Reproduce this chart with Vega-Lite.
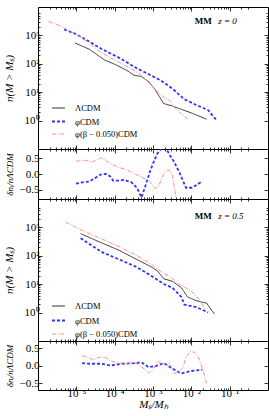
{
  "$schema": "https://vega.github.io/schema/vega-lite/v6.json",
  "padding": {"left": 2, "top": 6, "right": 0, "bottom": 0},
  "spacing": 0,
  "bounds": "flush",
  "config": {
    "font": "Liberation Serif",
    "view": {"stroke": "#000000", "strokeWidth": 1},
    "axis": {"grid": false, "domain": false, "tickColor": "#000000", "tickWidth": 0.8, "labelColor": "#000000", "titleColor": "#000000", "labelFont": "Liberation Serif", "titleFont": "Liberation Serif", "labelFontSize": 11, "titleFontSize": 11, "titleFontWeight": "normal", "titleFontStyle": "italic", "labelFlush": false, "labelOverlap": false, "titleLimit": 1000}
  },
  "datasets": {
    "main0": [
      {"m": "ΛCDM", "x": 9.33e-6, "y": 537}, {"m": "ΛCDM", "x": 2.19e-5, "y": 324}, {"m": "ΛCDM", "x": 5.37e-5, "y": 138}, {"m": "ΛCDM", "x": 1.10e-4, "y": 91.2}, {"m": "ΛCDM", "x": 2.24e-4, "y": 55.0}, {"m": "ΛCDM", "x": 3.16e-4, "y": 39.8}, {"m": "ΛCDM", "x": 5.01e-4, "y": 35.5}, {"m": "ΛCDM", "x": 7.76e-4, "y": 23.4}, {"m": "ΛCDM", "x": 1.12e-3, "y": 12.6}, {"m": "ΛCDM", "x": 1.905e-3, "y": 3.98}, {"m": "ΛCDM", "x": 3.24e-3, "y": 3.24}, {"m": "ΛCDM", "x": 1.0e-2, "y": 1.86}, {"m": "ΛCDM", "x": 2.51e-2, "y": 1.12},
      {"m": "φCDM", "x": 4.79e-6, "y": 1622}, {"m": "φCDM", "x": 8.91e-6, "y": 1175}, {"m": "φCDM", "x": 2.19e-5, "y": 603}, {"m": "φCDM", "x": 4.47e-5, "y": 339}, {"m": "φCDM", "x": 1.32e-4, "y": 162}, {"m": "φCDM", "x": 3.80e-4, "y": 69.2}, {"m": "φCDM", "x": 7.76e-4, "y": 42.7}, {"m": "φCDM", "x": 1.585e-3, "y": 26.3}, {"m": "φCDM", "x": 3.24e-3, "y": 13.2}, {"m": "φCDM", "x": 6.61e-3, "y": 5.62}, {"m": "φCDM", "x": 1.35e-2, "y": 3.55}, {"m": "φCDM", "x": 2.75e-2, "y": 2.34}, {"m": "φCDM", "x": 3.98e-2, "y": 1.26}, {"m": "φCDM", "x": 4.68e-2, "y": 1.02},
      {"m": "φ(β − 0.050)CDM", "x": 1.905e-6, "y": 3090}, {"m": "φ(β − 0.050)CDM", "x": 3.98e-6, "y": 2089}, {"m": "φ(β − 0.050)CDM", "x": 8.91e-6, "y": 1175}, {"m": "φ(β − 0.050)CDM", "x": 2.19e-5, "y": 537}, {"m": "φ(β − 0.050)CDM", "x": 4.47e-5, "y": 245}, {"m": "φ(β − 0.050)CDM", "x": 1.32e-4, "y": 112}, {"m": "φ(β − 0.050)CDM", "x": 2.69e-4, "y": 67.6}, {"m": "φ(β − 0.050)CDM", "x": 4.57e-4, "y": 42.7}, {"m": "φ(β − 0.050)CDM", "x": 7.76e-4, "y": 21.4}, {"m": "φ(β − 0.050)CDM", "x": 1.32e-3, "y": 10.2}, {"m": "φ(β − 0.050)CDM", "x": 2.09e-3, "y": 6.03}, {"m": "φ(β − 0.050)CDM", "x": 2.69e-3, "y": 5.25}, {"m": "φ(β − 0.050)CDM", "x": 3.55e-3, "y": 2.88}, {"m": "φ(β − 0.050)CDM", "x": 5.50e-3, "y": 1.74}, {"m": "φ(β − 0.050)CDM", "x": 7.94e-3, "y": 1.12}
    ],
    "res0": [
      {"m": "φCDM", "x": 9.77e-6, "y": -0.31}, {"m": "φCDM", "x": 1.55e-5, "y": -0.26}, {"m": "φCDM", "x": 2.19e-5, "y": -0.24}, {"m": "φCDM", "x": 3.16e-5, "y": -0.12}, {"m": "φCDM", "x": 4.47e-5, "y": -0.01}, {"m": "φCDM", "x": 5.89e-5, "y": 0.0}, {"m": "φCDM", "x": 7.59e-5, "y": -0.07}, {"m": "φCDM", "x": 9.12e-5, "y": -0.21}, {"m": "φCDM", "x": 1.32e-4, "y": -0.21}, {"m": "φCDM", "x": 1.70e-4, "y": -0.19}, {"m": "φCDM", "x": 2.69e-4, "y": -0.26}, {"m": "φCDM", "x": 3.80e-4, "y": -0.44}, {"m": "φCDM", "x": 5.01e-4, "y": -0.75}, {"m": "φCDM", "x": 6.46e-4, "y": -0.35}, {"m": "φCDM", "x": 8.51e-4, "y": 0.11}, {"m": "φCDM", "x": 1.12e-3, "y": 0.48}, {"m": "φCDM", "x": 1.32e-3, "y": 0.67}, {"m": "φCDM", "x": 1.78e-3, "y": 0.85}, {"m": "φCDM", "x": 2.24e-3, "y": 0.8}, {"m": "φCDM", "x": 2.69e-3, "y": 0.62}, {"m": "φCDM", "x": 3.55e-3, "y": 0.39}, {"m": "φCDM", "x": 5.01e-3, "y": 0.02}, {"m": "φCDM", "x": 7.24e-3, "y": -0.44}, {"m": "φCDM", "x": 1.047e-2, "y": -0.44}, {"m": "φCDM", "x": 1.78e-2, "y": -0.26},
      {"m": "φ(β − 0.050)CDM", "x": 9.77e-6, "y": 0.41}, {"m": "φ(β − 0.050)CDM", "x": 1.70e-5, "y": 0.44}, {"m": "φ(β − 0.050)CDM", "x": 2.63e-5, "y": 0.39}, {"m": "φ(β − 0.050)CDM", "x": 4.47e-5, "y": 0.52}, {"m": "φ(β − 0.050)CDM", "x": 7.59e-5, "y": 0.34}, {"m": "φ(β − 0.050)CDM", "x": 1.32e-4, "y": 0.20}, {"m": "φ(β − 0.050)CDM", "x": 1.86e-4, "y": 0.16}, {"m": "φ(β − 0.050)CDM", "x": 2.69e-4, "y": 0.06}, {"m": "φ(β − 0.050)CDM", "x": 4.57e-4, "y": -0.07}, {"m": "φ(β − 0.050)CDM", "x": 6.46e-4, "y": -0.17}, {"m": "φ(β − 0.050)CDM", "x": 7.76e-4, "y": -0.19}, {"m": "φ(β − 0.050)CDM", "x": 1.023e-3, "y": -0.40}, {"m": "φ(β − 0.050)CDM", "x": 1.175e-3, "y": -0.47}, {"m": "φ(β − 0.050)CDM", "x": 1.41e-3, "y": -0.38}, {"m": "φ(β − 0.050)CDM", "x": 1.905e-3, "y": 0.0}, {"m": "φ(β − 0.050)CDM", "x": 2.40e-3, "y": 0.13}, {"m": "φ(β − 0.050)CDM", "x": 2.82e-3, "y": 0.10}, {"m": "φ(β − 0.050)CDM", "x": 3.24e-3, "y": -0.07}, {"m": "φ(β − 0.050)CDM", "x": 3.98e-3, "y": -0.75}
    ],
    "main5": [
      {"m": "ΛCDM", "x": 1.29e-5, "y": 603}, {"m": "ΛCDM", "x": 4.47e-5, "y": 288}, {"m": "ΛCDM", "x": 1.32e-4, "y": 155}, {"m": "ΛCDM", "x": 3.80e-4, "y": 74.1}, {"m": "ΛCDM", "x": 9.33e-4, "y": 39.8}, {"m": "ΛCDM", "x": 1.32e-3, "y": 28.8}, {"m": "ΛCDM", "x": 1.905e-3, "y": 15.5}, {"m": "ΛCDM", "x": 3.24e-3, "y": 12.6}, {"m": "ΛCDM", "x": 5.50e-3, "y": 7.41}, {"m": "ΛCDM", "x": 7.94e-3, "y": 3.55}, {"m": "ΛCDM", "x": 1.35e-2, "y": 2.63}, {"m": "ΛCDM", "x": 2.51e-2, "y": 2.14}, {"m": "ΛCDM", "x": 3.31e-2, "y": 1.26}, {"m": "ΛCDM", "x": 3.98e-2, "y": 0.91},
      {"m": "φCDM", "x": 1.29e-5, "y": 417}, {"m": "φCDM", "x": 4.47e-5, "y": 138}, {"m": "φCDM", "x": 1.32e-4, "y": 74.1}, {"m": "φCDM", "x": 3.80e-4, "y": 39.8}, {"m": "φCDM", "x": 9.33e-4, "y": 19.1}, {"m": "φCDM", "x": 1.905e-3, "y": 10.2}, {"m": "φCDM", "x": 3.24e-3, "y": 7.41}, {"m": "φCDM", "x": 5.50e-3, "y": 3.55}, {"m": "φCDM", "x": 6.61e-3, "y": 1.91}, {"m": "φCDM", "x": 1.35e-2, "y": 1.55}, {"m": "φCDM", "x": 2.75e-2, "y": 1.02},
      {"m": "φ(β − 0.050)CDM", "x": 5.25e-6, "y": 1549}, {"m": "φ(β − 0.050)CDM", "x": 1.29e-5, "y": 832}, {"m": "φ(β − 0.050)CDM", "x": 4.47e-5, "y": 398}, {"m": "φ(β − 0.050)CDM", "x": 1.32e-4, "y": 209}, {"m": "φ(β − 0.050)CDM", "x": 3.80e-4, "y": 102}, {"m": "φ(β − 0.050)CDM", "x": 9.33e-4, "y": 49.0}, {"m": "φ(β − 0.050)CDM", "x": 1.905e-3, "y": 23.4}, {"m": "φ(β − 0.050)CDM", "x": 2.69e-3, "y": 19.1}, {"m": "φ(β − 0.050)CDM", "x": 4.68e-3, "y": 10.2}, {"m": "φ(β − 0.050)CDM", "x": 9.55e-3, "y": 6.03}, {"m": "φ(β − 0.050)CDM", "x": 1.62e-2, "y": 2.88}, {"m": "φ(β − 0.050)CDM", "x": 2.34e-2, "y": 1.26}
    ],
    "res5": [
      {"m": "φCDM", "x": 1.41e-5, "y": 0.07}, {"m": "φCDM", "x": 2.19e-5, "y": 0.05}, {"m": "φCDM", "x": 4.47e-5, "y": 0.05}, {"m": "φCDM", "x": 7.59e-5, "y": 0.0}, {"m": "φCDM", "x": 1.55e-4, "y": 0.05}, {"m": "φCDM", "x": 2.69e-4, "y": 0.06}, {"m": "φCDM", "x": 5.01e-4, "y": 0.09}, {"m": "φCDM", "x": 7.76e-4, "y": -0.05}, {"m": "φCDM", "x": 1.32e-3, "y": 0.0}, {"m": "φCDM", "x": 1.905e-3, "y": 0.07}, {"m": "φCDM", "x": 3.24e-3, "y": -0.09}, {"m": "φCDM", "x": 5.50e-3, "y": -0.23}, {"m": "φCDM", "x": 9.55e-3, "y": -0.16}, {"m": "φCDM", "x": 1.95e-2, "y": -0.12},
      {"m": "φ(β − 0.050)CDM", "x": 1.41e-5, "y": 0.28}, {"m": "φ(β − 0.050)CDM", "x": 2.0e-5, "y": 0.23}, {"m": "φ(β − 0.050)CDM", "x": 2.88e-5, "y": 0.16}, {"m": "φ(β − 0.050)CDM", "x": 3.72e-5, "y": 0.23}, {"m": "φ(β − 0.050)CDM", "x": 5.37e-5, "y": 0.25}, {"m": "φ(β − 0.050)CDM", "x": 7.59e-5, "y": 0.14}, {"m": "φ(β − 0.050)CDM", "x": 1.32e-4, "y": 0.06}, {"m": "φ(β − 0.050)CDM", "x": 2.24e-4, "y": 0.07}, {"m": "φ(β − 0.050)CDM", "x": 3.16e-4, "y": 0.09}, {"m": "φ(β − 0.050)CDM", "x": 4.57e-4, "y": 0.0}, {"m": "φ(β − 0.050)CDM", "x": 7.76e-4, "y": -0.21}, {"m": "φ(β − 0.050)CDM", "x": 1.023e-3, "y": -0.09}, {"m": "φ(β − 0.050)CDM", "x": 1.32e-3, "y": 0.12}, {"m": "φ(β − 0.050)CDM", "x": 1.74e-3, "y": 0.05}, {"m": "φ(β − 0.050)CDM", "x": 2.29e-3, "y": 0.0}, {"m": "φ(β − 0.050)CDM", "x": 2.69e-3, "y": 0.07}, {"m": "φ(β − 0.050)CDM", "x": 3.55e-3, "y": -0.23}, {"m": "φ(β − 0.050)CDM", "x": 4.68e-3, "y": -0.19}, {"m": "φ(β − 0.050)CDM", "x": 6.03e-3, "y": -0.05}, {"m": "φ(β − 0.050)CDM", "x": 7.24e-3, "y": 0.23}, {"m": "φ(β − 0.050)CDM", "x": 9.55e-3, "y": 0.40}, {"m": "φ(β − 0.050)CDM", "x": 1.23e-2, "y": 0.37}, {"m": "φ(β − 0.050)CDM", "x": 1.48e-2, "y": 0.28}, {"m": "φ(β − 0.050)CDM", "x": 1.95e-2, "y": -0.09}, {"m": "φ(β − 0.050)CDM", "x": 2.51e-2, "y": -0.51}
    ]
  },
  "resolve": {
    "scale": {"color": "independent", "strokeDash": "independent", "strokeWidth": "independent"},
    "legend": {"color": "independent", "strokeDash": "independent", "strokeWidth": "independent"}
  },
  "vconcat": [
    {
      "width": 230, "height": 142,
      "layer": [
        {
          "data": {"name": "main0"},
          "mark": {"type": "line", "clip": true},
          "encoding": {
            "x": {"field": "x", "type": "quantitative", "scale": {"type": "log", "domain": [1.55e-6, 0.339]},
              "axis": {"orient": "bottom", "labels": false, "title": null, "values": [2e-6,3e-6,4e-6,5e-6,6e-6,7e-6,8e-6,9e-6,1e-5,2e-5,3e-5,4e-5,5e-5,6e-5,7e-5,8e-5,9e-5,1e-4,2e-4,3e-4,4e-4,5e-4,6e-4,7e-4,8e-4,9e-4,1e-3,2e-3,3e-3,4e-3,5e-3,6e-3,7e-3,8e-3,9e-3,0.01,0.02,0.03,0.04,0.05,0.06,0.07,0.08,0.09,0.1,0.2,0.3],
                "tickSize": {"condition": {"test": "abs(log(datum.value)/LN10-round(log(datum.value)/LN10))<0.001", "value": -4}, "value": -2}}},
            "y": {"field": "y", "type": "quantitative", "scale": {"type": "log", "domain": [0.9, 6600]},
              "axis": {"orient": "left", "title": "n(M > Mₛ)", "minExtent": 22, "maxExtent": 22, "labelPadding": 3, "titlePadding": 2,
                "values": [1,2,3,4,5,6,7,8,9,10,20,30,40,50,60,70,80,90,100,200,300,400,500,600,700,800,900,1000,2000,3000,4000,5000,6000],
                "labelExpr": "abs(log(datum.value)/LN10-round(log(datum.value)/LN10))<0.001 ? ['10⁰','10¹','10²','10³','10⁴'][round(log(datum.value)/LN10)] : ''",
                "tickSize": {"condition": {"test": "abs(log(datum.value)/LN10-round(log(datum.value)/LN10))<0.001", "value": -4}, "value": -2}}},
            "color": {"field": "m", "type": "nominal", "scale": {"domain": ["ΛCDM", "φCDM", "φ(β − 0.050)CDM"], "range": ["#333333", "#3333ff", "#ff8c8c"]},
              "legend": {"orient": "none", "legendX": 13, "legendY": 94, "title": null, "symbolType": "stroke", "symbolSize": 169, "labelFontSize": 8.5, "labelOffset": 9, "rowPadding": 1, "padding": 0, "labelFont": "Liberation Serif"}},
            "strokeDash": {"field": "m", "type": "nominal", "scale": {"domain": ["ΛCDM", "φCDM", "φ(β − 0.050)CDM"], "range": [[1, 0], [3, 2], [4, 1.5, 1, 1.5]]},
              "legend": {"orient": "none", "legendX": 13, "legendY": 94, "title": null, "symbolType": "stroke", "symbolSize": 169, "labelFontSize": 8.5, "labelOffset": 9, "rowPadding": 1, "padding": 0, "labelFont": "Liberation Serif"}},
            "strokeWidth": {"field": "m", "type": "nominal", "scale": {"type": "ordinal", "domain": ["ΛCDM", "φCDM", "φ(β − 0.050)CDM"], "range": [1, 1.8, 1]},
              "legend": {"orient": "none", "legendX": 13, "legendY": 94, "title": null, "symbolType": "stroke", "symbolSize": 169, "labelFontSize": 8.5, "labelOffset": 9, "rowPadding": 1, "padding": 0, "labelFont": "Liberation Serif"}}
          }
        },
        {
          "data": {"values": [{}]},
          "mark": {"type": "text", "align": "right", "baseline": "middle", "fontWeight": "bold", "fontSize": 9, "font": "Liberation Serif"},
          "encoding": {
            "x": {"datum": 0.0343, "type": "quantitative", "scale": {"type": "log"},
              "axis": {"orient": "top", "labels": false, "title": null, "values": [2e-6,3e-6,4e-6,5e-6,6e-6,7e-6,8e-6,9e-6,1e-5,2e-5,3e-5,4e-5,5e-5,6e-5,7e-5,8e-5,9e-5,1e-4,2e-4,3e-4,4e-4,5e-4,6e-4,7e-4,8e-4,9e-4,1e-3,2e-3,3e-3,4e-3,5e-3,6e-3,7e-3,8e-3,9e-3,0.01,0.02,0.03,0.04,0.05,0.06,0.07,0.08,0.09,0.1,0.2,0.3],
                "tickSize": {"condition": {"test": "abs(log(datum.value)/LN10-round(log(datum.value)/LN10))<0.001", "value": -4}, "value": -2}}},
            "y": {"datum": 3214, "type": "quantitative", "scale": {"type": "log"},
              "axis": {"orient": "right", "labels": false, "title": null, "values": [1,2,3,4,5,6,7,8,9,10,20,30,40,50,60,70,80,90,100,200,300,400,500,600,700,800,900,1000,2000,3000,4000,5000,6000],
                "tickSize": {"condition": {"test": "abs(log(datum.value)/LN10-round(log(datum.value)/LN10))<0.001", "value": -4}, "value": -2}}},
            "text": {"value": "MM"}
          }
        },
        {
          "data": {"values": [{}]},
          "mark": {"type": "text", "align": "left", "baseline": "middle", "fontStyle": "italic", "fontSize": 9, "font": "Liberation Serif"},
          "encoding": {
            "x": {"datum": 0.05, "type": "quantitative", "scale": {"type": "log"}, "axis": null},
            "y": {"datum": 3214, "type": "quantitative", "scale": {"type": "log"}, "axis": null},
            "text": {"value": "z = 0"}
          }
        }
      ],
      "resolve": {"axis": {"x": "independent", "y": "independent"}}
    },
    {
      "width": 230, "height": 50,
      "layer": [
        {
          "data": {"name": "res0"},
          "mark": {"type": "line", "clip": true},
          "encoding": {
            "x": {"field": "x", "type": "quantitative", "scale": {"type": "log", "domain": [1.55e-6, 0.339]},
              "axis": {"orient": "bottom", "labels": false, "title": null, "values": [2e-6,3e-6,4e-6,5e-6,6e-6,7e-6,8e-6,9e-6,1e-5,2e-5,3e-5,4e-5,5e-5,6e-5,7e-5,8e-5,9e-5,1e-4,2e-4,3e-4,4e-4,5e-4,6e-4,7e-4,8e-4,9e-4,1e-3,2e-3,3e-3,4e-3,5e-3,6e-3,7e-3,8e-3,9e-3,0.01,0.02,0.03,0.04,0.05,0.06,0.07,0.08,0.09,0.1,0.2,0.3],
                "tickSize": {"condition": {"test": "abs(log(datum.value)/LN10-round(log(datum.value)/LN10))<0.001", "value": -4}, "value": -2}}},
            "y": {"field": "y", "type": "quantitative", "scale": {"domain": [-0.68, 0.72]},
              "axis": {"orient": "left", "title": "δnᵢ/nΛCDM", "titleFontSize": 9, "minExtent": 22, "maxExtent": 22, "labelPadding": 3, "titlePadding": 2, "values": [-0.5, 0, 0.5], "format": ".1f", "tickSize": -4}},
            "color": {"field": "m", "type": "nominal", "scale": {"domain": ["ΛCDM", "φCDM", "φ(β − 0.050)CDM"], "range": ["#333333", "#3333ff", "#ff8c8c"]}, "legend": null},
            "strokeDash": {"field": "m", "type": "nominal", "scale": {"domain": ["ΛCDM", "φCDM", "φ(β − 0.050)CDM"], "range": [[1, 0], [3, 2], [4, 1.5, 1, 1.5]]}, "legend": null},
            "strokeWidth": {"field": "m", "type": "nominal", "scale": {"type": "ordinal", "domain": ["ΛCDM", "φCDM", "φ(β − 0.050)CDM"], "range": [1, 1.8, 1]}, "legend": null}
          }
        },
        {
          "data": {"name": "res0"},
          "mark": {"type": "line", "opacity": 0},
          "encoding": {
            "x": {"field": "x", "type": "quantitative", "scale": {"type": "log"},
              "axis": {"orient": "top", "labels": false, "title": null, "values": [2e-6,3e-6,4e-6,5e-6,6e-6,7e-6,8e-6,9e-6,1e-5,2e-5,3e-5,4e-5,5e-5,6e-5,7e-5,8e-5,9e-5,1e-4,2e-4,3e-4,4e-4,5e-4,6e-4,7e-4,8e-4,9e-4,1e-3,2e-3,3e-3,4e-3,5e-3,6e-3,7e-3,8e-3,9e-3,0.01,0.02,0.03,0.04,0.05,0.06,0.07,0.08,0.09,0.1,0.2,0.3],
                "tickSize": {"condition": {"test": "abs(log(datum.value)/LN10-round(log(datum.value)/LN10))<0.001", "value": -4}, "value": -2}}},
            "y": {"field": "y", "type": "quantitative", "axis": {"orient": "right", "labels": false, "title": null, "values": [-0.5, 0, 0.5], "tickSize": -4}},
            "detail": {"field": "m"}
          }
        }
      ],
      "resolve": {"axis": {"x": "independent", "y": "independent"}}
    },
    {
      "width": 230, "height": 142,
      "layer": [
        {
          "data": {"name": "main5"},
          "mark": {"type": "line", "clip": true},
          "encoding": {
            "x": {"field": "x", "type": "quantitative", "scale": {"type": "log", "domain": [1.55e-6, 0.339]},
              "axis": {"orient": "bottom", "labels": false, "title": null, "values": [2e-6,3e-6,4e-6,5e-6,6e-6,7e-6,8e-6,9e-6,1e-5,2e-5,3e-5,4e-5,5e-5,6e-5,7e-5,8e-5,9e-5,1e-4,2e-4,3e-4,4e-4,5e-4,6e-4,7e-4,8e-4,9e-4,1e-3,2e-3,3e-3,4e-3,5e-3,6e-3,7e-3,8e-3,9e-3,0.01,0.02,0.03,0.04,0.05,0.06,0.07,0.08,0.09,0.1,0.2,0.3],
                "tickSize": {"condition": {"test": "abs(log(datum.value)/LN10-round(log(datum.value)/LN10))<0.001", "value": -4}, "value": -2}}},
            "y": {"field": "y", "type": "quantitative", "scale": {"type": "log", "domain": [0.79, 5900]},
              "axis": {"orient": "left", "title": "n(M > Mₛ)", "minExtent": 22, "maxExtent": 22, "labelPadding": 3, "titlePadding": 2,
                "values": [1,2,3,4,5,6,7,8,9,10,20,30,40,50,60,70,80,90,100,200,300,400,500,600,700,800,900,1000,2000,3000,4000,5000],
                "labelExpr": "abs(log(datum.value)/LN10-round(log(datum.value)/LN10))<0.001 ? ['10⁰','10¹','10²','10³','10⁴'][round(log(datum.value)/LN10)] : ''",
                "tickSize": {"condition": {"test": "abs(log(datum.value)/LN10-round(log(datum.value)/LN10))<0.001", "value": -4}, "value": -2}}},
            "color": {"field": "m", "type": "nominal", "scale": {"domain": ["ΛCDM", "φCDM", "φ(β − 0.050)CDM"], "range": ["#333333", "#3333ff", "#ff8c8c"]},
              "legend": {"orient": "none", "legendX": 13, "legendY": 100, "title": null, "symbolType": "stroke", "symbolSize": 169, "labelFontSize": 8.5, "labelOffset": 9, "rowPadding": 2, "padding": 0, "labelFont": "Liberation Serif"}},
            "strokeDash": {"field": "m", "type": "nominal", "scale": {"domain": ["ΛCDM", "φCDM", "φ(β − 0.050)CDM"], "range": [[1, 0], [3, 2], [4, 1.5, 1, 1.5]]},
              "legend": {"orient": "none", "legendX": 13, "legendY": 100, "title": null, "symbolType": "stroke", "symbolSize": 169, "labelFontSize": 8.5, "labelOffset": 9, "rowPadding": 2, "padding": 0, "labelFont": "Liberation Serif"}},
            "strokeWidth": {"field": "m", "type": "nominal", "scale": {"type": "ordinal", "domain": ["ΛCDM", "φCDM", "φ(β − 0.050)CDM"], "range": [1, 1.8, 1]},
              "legend": {"orient": "none", "legendX": 13, "legendY": 100, "title": null, "symbolType": "stroke", "symbolSize": 169, "labelFontSize": 8.5, "labelOffset": 9, "rowPadding": 2, "padding": 0, "labelFont": "Liberation Serif"}}
          }
        },
        {
          "data": {"values": [{}]},
          "mark": {"type": "text", "align": "right", "baseline": "middle", "fontWeight": "bold", "fontSize": 9, "font": "Liberation Serif"},
          "encoding": {
            "x": {"datum": 0.0343, "type": "quantitative", "scale": {"type": "log"},
              "axis": {"orient": "top", "labels": false, "title": null, "values": [2e-6,3e-6,4e-6,5e-6,6e-6,7e-6,8e-6,9e-6,1e-5,2e-5,3e-5,4e-5,5e-5,6e-5,7e-5,8e-5,9e-5,1e-4,2e-4,3e-4,4e-4,5e-4,6e-4,7e-4,8e-4,9e-4,1e-3,2e-3,3e-3,4e-3,5e-3,6e-3,7e-3,8e-3,9e-3,0.01,0.02,0.03,0.04,0.05,0.06,0.07,0.08,0.09,0.1,0.2,0.3],
                "tickSize": {"condition": {"test": "abs(log(datum.value)/LN10-round(log(datum.value)/LN10))<0.001", "value": -4}, "value": -2}}},
            "y": {"datum": 2594, "type": "quantitative", "scale": {"type": "log"},
              "axis": {"orient": "right", "labels": false, "title": null, "values": [1,2,3,4,5,6,7,8,9,10,20,30,40,50,60,70,80,90,100,200,300,400,500,600,700,800,900,1000,2000,3000,4000,5000],
                "tickSize": {"condition": {"test": "abs(log(datum.value)/LN10-round(log(datum.value)/LN10))<0.001", "value": -4}, "value": -2}}},
            "text": {"value": "MM"}
          }
        },
        {
          "data": {"values": [{}]},
          "mark": {"type": "text", "align": "left", "baseline": "middle", "fontStyle": "italic", "fontSize": 9, "font": "Liberation Serif"},
          "encoding": {
            "x": {"datum": 0.05, "type": "quantitative", "scale": {"type": "log"}, "axis": null},
            "y": {"datum": 2594, "type": "quantitative", "scale": {"type": "log"}, "axis": null},
            "text": {"value": "z = 0.5"}
          }
        }
      ],
      "resolve": {"axis": {"x": "independent", "y": "independent"}}
    },
    {
      "width": 230, "height": 49,
      "layer": [
        {
          "data": {"name": "res5"},
          "mark": {"type": "line", "clip": true},
          "encoding": {
            "x": {"field": "x", "type": "quantitative", "scale": {"type": "log", "domain": [1.55e-6, 0.339]},
              "axis": {"orient": "bottom", "title": "Mₛ/Mₕ", "labelPadding": 1, "titlePadding": -2, "labelBaseline": "top", "values": [2e-6,3e-6,4e-6,5e-6,6e-6,7e-6,8e-6,9e-6,1e-5,2e-5,3e-5,4e-5,5e-5,6e-5,7e-5,8e-5,9e-5,1e-4,2e-4,3e-4,4e-4,5e-4,6e-4,7e-4,8e-4,9e-4,1e-3,2e-3,3e-3,4e-3,5e-3,6e-3,7e-3,8e-3,9e-3,0.01,0.02,0.03,0.04,0.05,0.06,0.07,0.08,0.09,0.1,0.2,0.3],
                "labelExpr": "abs(log(datum.value)/LN10-round(log(datum.value)/LN10))<0.001 ? ['10⁰','10⁻¹','10⁻²','10⁻³','10⁻⁴','10⁻⁵','10⁻⁶'][-round(log(datum.value)/LN10)] : ''",
                "tickSize": {"condition": {"test": "abs(log(datum.value)/LN10-round(log(datum.value)/LN10))<0.001", "value": -4}, "value": -2}}},
            "y": {"field": "y", "type": "quantitative", "scale": {"domain": [-0.685, 0.675]},
              "axis": {"orient": "left", "title": "δnᵢ/nΛCDM", "titleFontSize": 9, "minExtent": 22, "maxExtent": 22, "labelPadding": 3, "titlePadding": 2, "values": [-0.5, 0, 0.5], "format": ".1f", "tickSize": -4}},
            "color": {"field": "m", "type": "nominal", "scale": {"domain": ["ΛCDM", "φCDM", "φ(β − 0.050)CDM"], "range": ["#333333", "#3333ff", "#ff8c8c"]}, "legend": null},
            "strokeDash": {"field": "m", "type": "nominal", "scale": {"domain": ["ΛCDM", "φCDM", "φ(β − 0.050)CDM"], "range": [[1, 0], [3, 2], [4, 1.5, 1, 1.5]]}, "legend": null},
            "strokeWidth": {"field": "m", "type": "nominal", "scale": {"type": "ordinal", "domain": ["ΛCDM", "φCDM", "φ(β − 0.050)CDM"], "range": [1, 1.8, 1]}, "legend": null}
          }
        },
        {
          "data": {"name": "res5"},
          "mark": {"type": "line", "opacity": 0},
          "encoding": {
            "x": {"field": "x", "type": "quantitative", "scale": {"type": "log"},
              "axis": {"orient": "top", "labels": false, "title": null, "values": [2e-6,3e-6,4e-6,5e-6,6e-6,7e-6,8e-6,9e-6,1e-5,2e-5,3e-5,4e-5,5e-5,6e-5,7e-5,8e-5,9e-5,1e-4,2e-4,3e-4,4e-4,5e-4,6e-4,7e-4,8e-4,9e-4,1e-3,2e-3,3e-3,4e-3,5e-3,6e-3,7e-3,8e-3,9e-3,0.01,0.02,0.03,0.04,0.05,0.06,0.07,0.08,0.09,0.1,0.2,0.3],
                "tickSize": {"condition": {"test": "abs(log(datum.value)/LN10-round(log(datum.value)/LN10))<0.001", "value": -4}, "value": -2}}},
            "y": {"field": "y", "type": "quantitative", "axis": {"orient": "right", "labels": false, "title": null, "values": [-0.5, 0, 0.5], "tickSize": -4}},
            "detail": {"field": "m"}
          }
        }
      ],
      "resolve": {"axis": {"x": "independent", "y": "independent"}}
    }
  ]
}
